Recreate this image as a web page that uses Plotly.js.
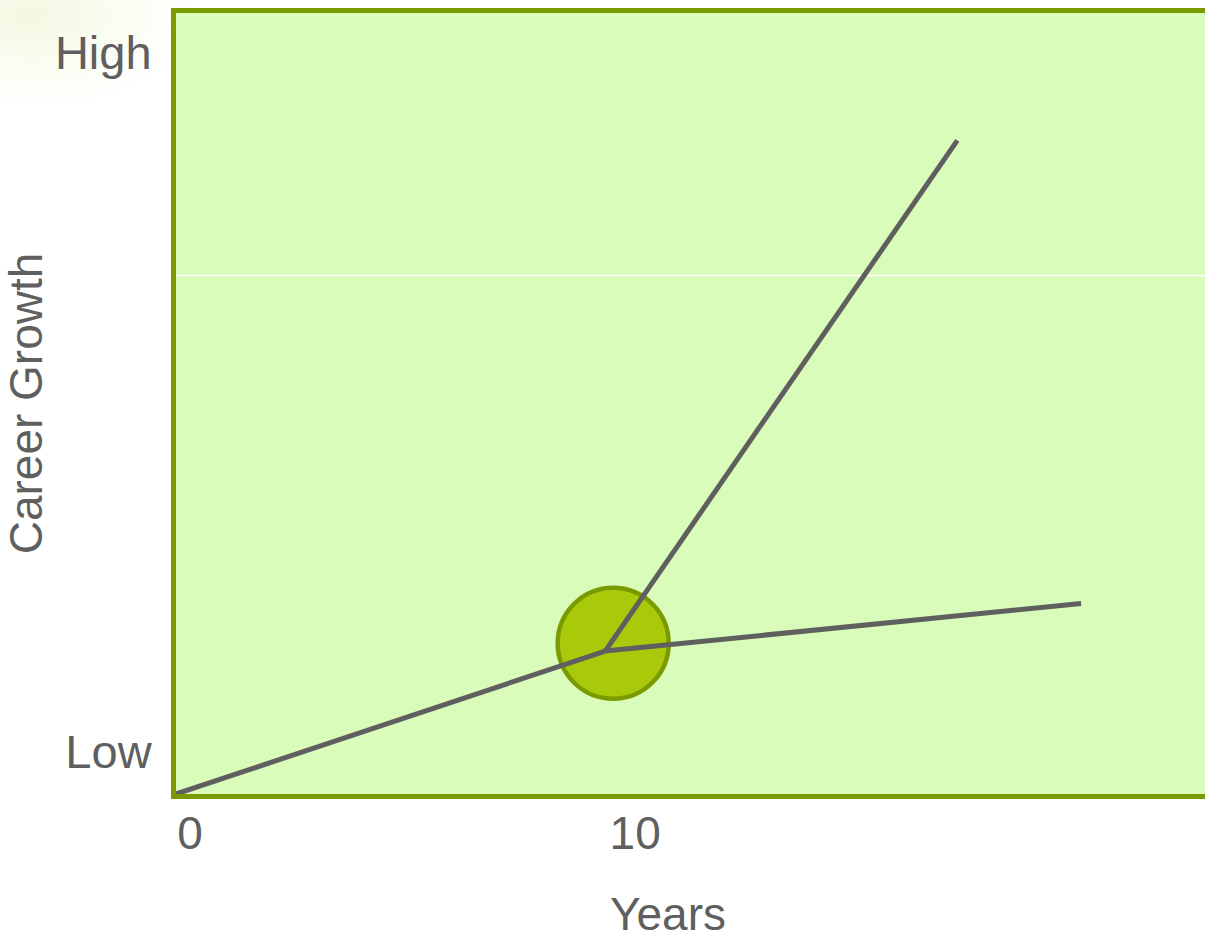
<!DOCTYPE html>
<html>
<head>
<meta charset="utf-8">
<script src="https://cdn.plot.ly/plotly-3.0.1.min.js"></script>
<style>
  html, body { margin: 0; padding: 0; width: 1205px; height: 941px; overflow: hidden;
    background: radial-gradient(ellipse 170px 95px at 30px 15px, #f3f8e2 0%, #f9fcef 45%, #ffffff 100%); }
  #chart { width: 1240px; height: 941px; }
</style>
</head>
<body>
<div id="chart"></div>
<script>
// Data (years vs. career growth on a 0-100 scale)
const trunkYears = [0, 9.64];
const trunkGrowth = [0, 18.3];
const fastYears = [9.64, 17.55];
const fastGrowth = [18.3, 83.7];
const slowYears = [9.64, 20.33];
const slowGrowth = [18.3, 24.4];
const pivotYears = [9.82];
const pivotGrowth = [19.3];
const xTickValues = [0, 10];
const xTickLabels = ['0', '10'];
const yTickValues = [5.4, 94.9];
const yTickLabels = ['Low', 'High'];
const referenceGrowth = 66.4;

const olive = '#7b9a00';
const gray = '#5f5f5f';
const font = '"Liberation Sans", Arial, sans-serif';

const lineStyle = { color: gray, width: 5 };
const traces = [
  { x: pivotYears, y: pivotGrowth, type: 'scatter', mode: 'markers', hoverinfo: 'skip',
    marker: { size: 111, color: '#a9c90b', line: { color: olive, width: 4.5 } }, cliponaxis: false },
  { x: trunkYears, y: trunkGrowth, type: 'scatter', mode: 'lines', line: lineStyle },
  { x: fastYears, y: fastGrowth, type: 'scatter', mode: 'lines', line: lineStyle },
  { x: slowYears, y: slowGrowth, type: 'scatter', mode: 'lines', line: lineStyle }
];

const layout = {
  width: 1240, height: 941,
  margin: { l: 175.5, r: 20, t: 12.5, b: 146.5, pad: 0 },
  paper_bgcolor: 'rgba(0,0,0,0)',
  plot_bgcolor: '#dafcba',
  showlegend: false,
  font: { family: font, color: gray, size: 46 },
  xaxis: {
    range: [0, 23.45], showgrid: false, zeroline: false,
    showline: true, linecolor: olive, linewidth: 5, mirror: true,
    tickmode: 'array', tickvals: xTickValues, ticktext: xTickLabels,
    ticks: '', ticklabelshift: 14, ticklabelstandoff: -5,
    tickfont: { family: font, size: 46, color: gray }
  },
  yaxis: {
    range: [0, 100], showgrid: false, zeroline: false,
    showline: true, linecolor: olive, linewidth: 5, mirror: true,
    tickmode: 'array', tickvals: yTickValues, ticktext: yTickLabels,
    ticks: '', ticklabelstandoff: 10,
    tickfont: { family: font, size: 47, color: gray },
    title: { text: 'Career Growth', font: { family: font, size: 46, color: gray }, standoff: 22 }
  },
  shapes: [
    { type: 'line', xref: 'paper', yref: 'y', x0: 0, x1: 1, y0: referenceGrowth, y1: referenceGrowth,
      line: { color: '#ffffff', width: 1.5 }, layer: 'below' }
  ],
  annotations: [
    { text: 'Years', xref: 'paper', yref: 'paper', x: (668 - 175.5) / 1044.5, y: 0, yshift: -120,
      showarrow: false, xanchor: 'center', yanchor: 'middle',
      font: { family: font, size: 46, color: gray } }
  ]
};

Plotly.newPlot('chart', traces, layout, { displayModeBar: false, staticPlot: true });
</script>
</body>
</html>
